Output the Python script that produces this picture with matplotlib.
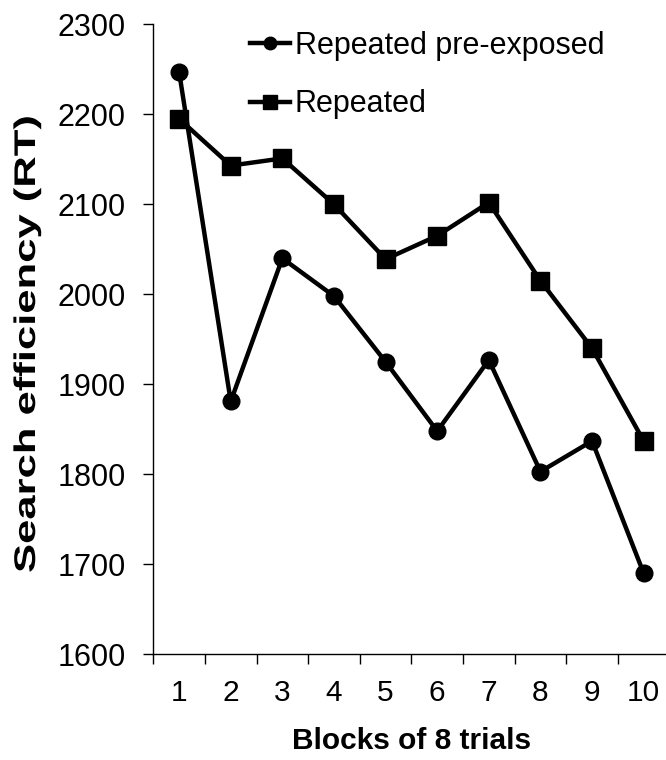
import matplotlib.pyplot as plt
import matplotlib.patheffects as pe
from matplotlib.transforms import Affine2D
import numpy as np

plt.rcParams['font.family'] = ['Liberation Sans', 'DejaVu Sans']

blocks = [1, 2, 3, 4, 5, 6, 7, 8, 9, 10]
pre_exposed = [2247, 1881, 2040, 1998, 1925, 1848, 1927, 1803, 1837, 1690]
repeated = [2195, 2143, 2151, 2100, 2039, 2065, 2102, 2015, 1940, 1837]


# the y label in the original is stretched along its length
class Stretch(pe.AbstractPathEffect):
    def __init__(self, sx):
        super().__init__()
        self.sx = sx

    def draw_path(self, renderer, gc, tpath, affine, rgbFace=None):
        renderer.draw_path(gc, tpath, Affine2D().scale(self.sx, 1) + affine, rgbFace)


fig = plt.figure(figsize=(6.66, 7.6), dpi=100)
ax = fig.add_axes([153.3 / 666, 1 - 654.3 / 760, 516.2 / 666, 630 / 760])

ax.plot(blocks, pre_exposed, color='black', lw=3.2, marker='o', ms=12,
        label='Repeated pre-exposed')
ax.plot(blocks, repeated, color='black', lw=3.2, marker='s', ms=12.5,
        label='Repeated')

ax.set_xlim(0.5, 10.5)
ax.set_ylim(1600, 2300)
ax.set_yticks(np.arange(1600, 2301, 100))
ax.set_xticks(blocks)
ax.set_xticks(np.arange(0.5, 10, 1), minor=True)
ax.tick_params(axis='x', which='major', length=0, labelsize=21.5, pad=18)
ax.tick_params(axis='x', which='minor', length=7, width=1, direction='out')
ax.tick_params(axis='y', length=7, width=1, direction='out', labelsize=22, pad=13)

for s in ['top', 'right']:
    ax.spines[s].set_visible(False)
for s in ['left', 'bottom']:
    ax.spines[s].set_linewidth(1)

ax.set_xlabel('Blocks of 8 trials', fontsize=21.5, fontweight='bold', labelpad=14)
fig.text(27 / 666, 1 - 573 / 760, 'Search efficiency (RT)', rotation=90,
         ha='center', va='bottom', fontsize=21.5, fontweight='bold',
         path_effects=[Stretch(1.46)])

ax.legend(loc='upper left', bbox_to_anchor=(250 / 666, 1 - 31 / 760),
          bbox_transform=fig.transFigure, frameon=False, fontsize=22,
          handlelength=1.3, handletextpad=0.16, labelspacing=0.93,
          borderpad=0, borderaxespad=0, markerscale=0.75)

fig.savefig('out.png', dpi=100)
